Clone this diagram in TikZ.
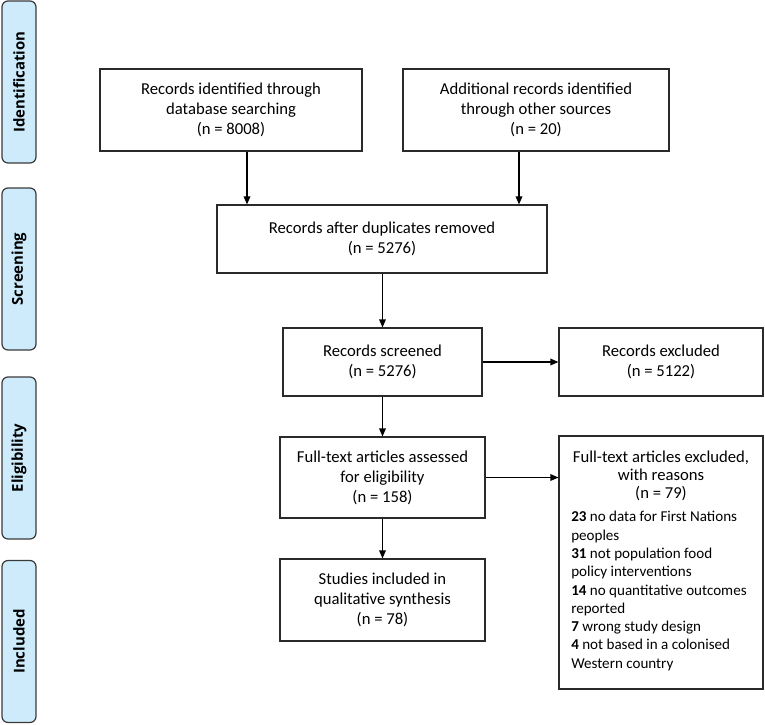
\documentclass[tikz,border=0pt]{standalone}
\usepackage{fontspec}
\setmainfont{Carlito}
\newfontfamily\sidefont{Open Sans}
\usetikzlibrary{arrows.meta,calc}
\definecolor{sidefill}{HTML}{CDEBFB}
\definecolor{sideline}{HTML}{3A3A3A}
\definecolor{boxline}{HTML}{2A2A2A}
\begin{document}
\begin{tikzpicture}[x=0.75pt,y=-0.75pt,
  boxbase/.style={draw=boxline,line width=0.9pt,inner sep=0pt},
  box/.style={boxbase,align=center,font=\fontsize{12.5}{15}\selectfont},
  txt/.style={inner sep=0pt,font=\fontsize{12.5}{13.7}\selectfont},
  listtxt/.style={inner sep=0pt,font=\fontsize{11.3}{13.7}\selectfont},
  side/.style={draw=sideline,line width=0.9pt,fill=sidefill,rounded corners=4.5pt,
    minimum width=25.5pt,minimum height=121.5pt,inner sep=0pt},
  sidelabel/.style={rotate=90,font=\sidefont\bfseries\fontsize{11.2}{13}\selectfont},
  arr/.style={line width=0.9pt,-{Triangle[length=6pt,width=5pt]}}]
\useasboundingbox (0,0) rectangle (765,725);
% side bars
\node[side] (s1) at (19,82) {};
\node[sidelabel] (l1) at (s1) {Identification};
\node[side] (s2) at (19,269) {};
\node[sidelabel] (l2) at (s2) {Screening};
\node[side] (s3) at (19,458) {};
\node[sidelabel] (l3) at (s3) {Eligibility};
\node[side] (s4) at (19,641.5) {};
\node[sidelabel] (l4) at (s4) {Included};
% boxes
\node[box,minimum width=196.5pt,minimum height=61.5pt] (b1) at (231,110)
  {Records identified through\\database searching\\(n = 8008)};
\node[box,minimum width=199.5pt,minimum height=61.5pt] (b2) at (536,110)
  {Additional records identified\\through other sources\\(n = 20)};
\node[box,minimum width=247.5pt,minimum height=51pt] (b3) at (382,239)
  {Records after duplicates removed\\(n = 5276)};
\node[box,minimum width=149.25pt,minimum height=51pt] (b4) at (382.5,362)
  {Records screened\\(n = 5276)};
\node[box,minimum width=153pt,minimum height=51pt] (b5) at (661,362)
  {Records excluded\\(n = 5122)};
\node[box,minimum width=153.75pt,minimum height=60.75pt] (b6) at (382.5,477.5)
  {Full-text articles assessed\\for eligibility\\(n = 158)};
\node[boxbase,minimum width=153pt,minimum height=189.75pt] (b7) at (661,562.5) {};
\node[txt,align=center] (b7h) at (661,476)
  {Full-text articles excluded,\\with reasons\\(n = 79)};
\node[listtxt,align=left,anchor=west] (b7l) at (571,591)
  {\textbf{23} no data for First Nations\\peoples\\
  \textbf{31} not population food\\policy interventions\\
  \textbf{14} no quantitative outcomes\\reported\\
  \textbf{7} wrong study design\\
  \textbf{4} not based in a colonised\\Western country};
\node[box,minimum width=153.75pt,minimum height=61.5pt] (b8) at (382.5,600)
  {Studies included in\\qualitative synthesis\\(n = 78)};
% connectors
\coordinate (c1) at (247,0);
\coordinate (c2) at (519,0);
\draw[arr] (b1.south -| c1) -- (b3.north -| c1);
\draw[arr] (b2.south -| c2) -- (b3.north -| c2);
\draw[arr] (b3.south -| b4) -- (b4.north);
\draw[arr] (b4.east) -- (b4.east -| b5.west);
\draw[arr] (b4.south) -- (b4.south |- b6.north);
\draw[arr] (b6.east) -- (b6.east -| b7.west);
\draw[arr] (b6.south) -- (b8.north);
\end{tikzpicture}
\end{document}
